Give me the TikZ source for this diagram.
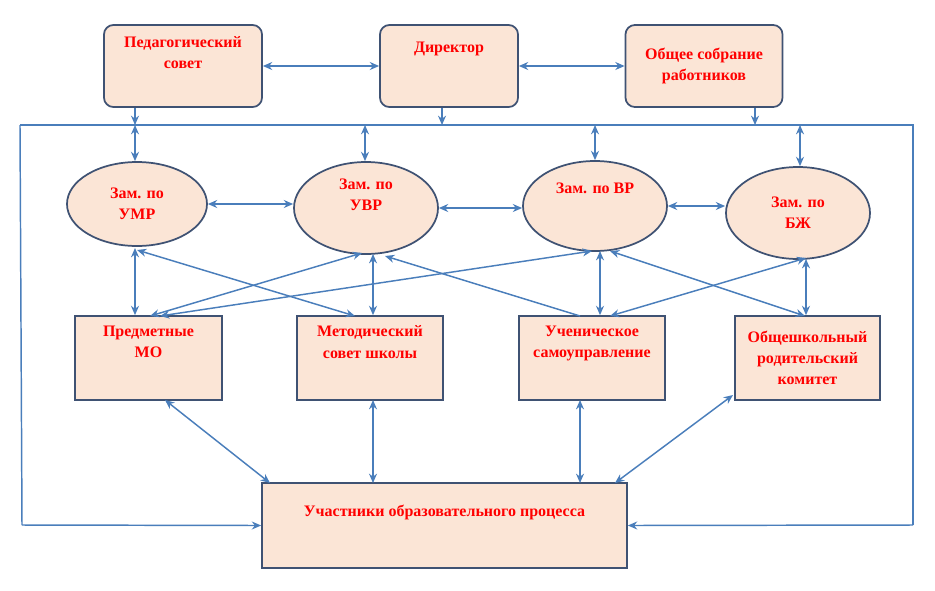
\documentclass[tikz,border=0pt]{standalone}
\usepackage{fontspec}
\setmainfont{Liberation Serif}
\usetikzlibrary{arrows.meta,shapes.geometric,calc}
\definecolor{fillc}{HTML}{FBE5D6}
\definecolor{edgec}{HTML}{3F5273}
\definecolor{arr}{HTML}{4A7EBB}
\definecolor{txt}{HTML}{FF0000}
\begin{document}
\begin{tikzpicture}[x=0.75pt,y=-0.75pt,
  base/.style={draw=edgec,line width=1.3pt,fill=fillc,text=txt,font=\bfseries\fontsize{12}{16}\selectfont,align=center,inner sep=0pt},
  rbox/.style={base,rectangle,rounded corners=7pt},
  sbox/.style={base,rectangle},
  ell/.style={base,ellipse},
  con/.style={draw=arr,line width=1.1pt},
  both/.style={con,{Stealth[length=7pt,width=6pt]}-{Stealth[length=7pt,width=6pt]}},
  one/.style={con,-{Stealth[length=7pt,width=6pt]}}]
\useasboundingbox (0,0) rectangle (935,590);
% top
\node[rbox,minimum width=158*0.75pt,minimum height=82*0.75pt] (ps) at (183,66) {Педагогический\\совет\\[4pt]};
\node[rbox,minimum width=138*0.75pt,minimum height=82*0.75pt] (dir) at (449,66) {Директор\\[12pt]};
\node[rbox,minimum width=157*0.75pt,minimum height=82*0.75pt] (os) at (704,66) {Общее собрание\\работников};
% ellipses
\node[ell,minimum width=140*0.75pt,minimum height=84*0.75pt] (umr) at (137,204) {Зам. по\\УМР};
\node[ell,minimum width=144*0.75pt,minimum height=92*0.75pt] (uvr) at (366,208) {Зам. по\\УВР\\[4pt]};
\node[ell,minimum width=144*0.75pt,minimum height=90*0.75pt] (vr) at (595,206) {Зам. по ВР\\[10pt]};
\node[ell,minimum width=144*0.75pt,minimum height=92*0.75pt] (bzh) at (798,213) {Зам. по\\БЖ};
% rectangles
\node[sbox,minimum width=147*0.75pt,minimum height=84*0.75pt] (pmo) at (148.5,358) {Предметные\\МО\\[8pt]};
\node[sbox,minimum width=146*0.75pt,minimum height=84*0.75pt] (mss) at (370,358) {Методический\\совет школы\\[8pt]};
\node[sbox,minimum width=146*0.75pt,minimum height=84*0.75pt] (us) at (592,358) {Ученическое\\самоуправление\\[8pt]};
\node[sbox,minimum width=145*0.75pt,minimum height=84*0.75pt] (ork) at (807.5,358) {Общешкольный\\родительский\\комитет};
\node[sbox,minimum width=365*0.75pt,minimum height=85*0.75pt] (uop) at (444.5,525.5) {Участники образовательного процесса\\[6pt]};
% frame line
\coordinate (fl) at (20,125);
\coordinate (fr) at (913,125);
\coordinate (bl) at (22,525);
\coordinate (br) at (913,525);
\draw[con] (fl) -- (fr) -- (br);
\draw[con] (fl) -- (bl);
\draw[one] (bl) -- (uop.west);
\draw[one] (br) -- (uop.east);
\draw[one] (ps.south -| 135,0) -- (135,125);
\draw[one] (dir.south -| 442,0) -- (442,125);
\draw[one] (os.south -| 755,0) -- (755,125);
\draw[both] (135,125) -- (umr.north -| 135,0);
\draw[both] (365,125) -- (uvr.north -| 365,0);
\draw[both] (595,125) -- (vr.north -| 595,0);
\draw[both] (800,125) -- (bzh.north -| 800,0);
% horizontals
\draw[both] (ps.east) -- (dir.west);
\draw[both] (dir.east) -- (os.west);
\draw[both] (umr.east) -- (umr.east -| uvr.west);
\draw[both] (uvr.east) -- (uvr.east -| vr.west);
\draw[both] (vr.east) -- (vr.east -| bzh.west);
% crossing
\draw[both] (135,248) -- (pmo.north -| 135,0);
\draw[both] (137,250) -- (355,316);
\draw[both] (362,253) -- (150,316);
\draw[both] (373,254) -- (mss.north -| 373,0);
\draw[one] (580,316) -- (385,256);
\draw[both] (592,251) -- (160,316);
\draw[both] (600,251) -- (us.north -| 600,0);
\draw[both] (610,251) -- (805,316);
\draw[both] (806,258) -- (610,316);
\draw[both] (806,259) -- (ork.north -| 806,0);
% bottom
\draw[both] (165,400) -- (270,483);
\draw[both] (373,400) -- (373,483);
\draw[both] (580,400) -- (580,483);
\draw[both] (733,395) -- (615,483);
\end{tikzpicture}
\end{document}
